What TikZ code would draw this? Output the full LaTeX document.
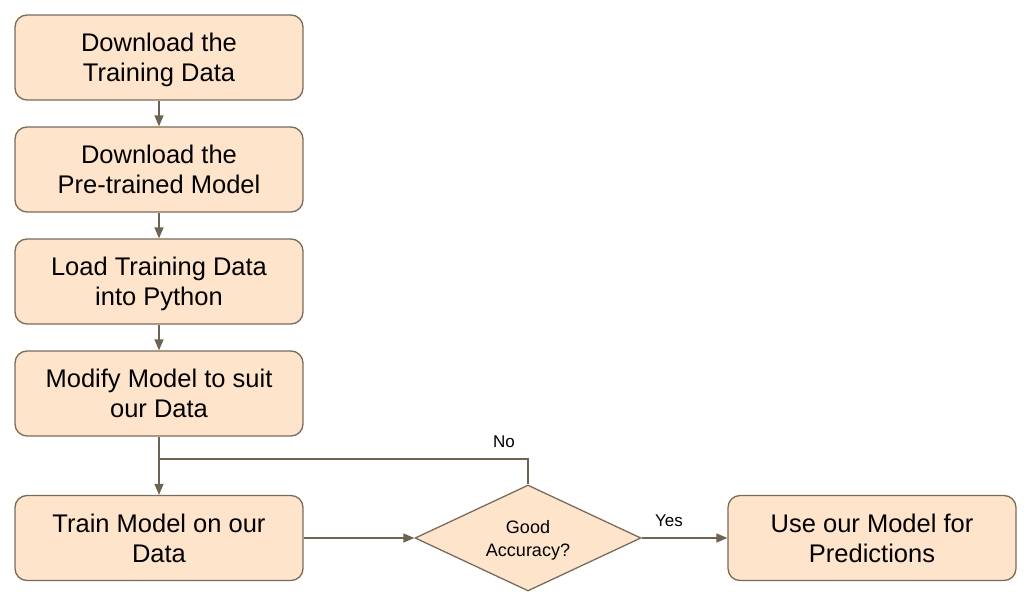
\documentclass[tikz,border=0pt]{standalone}
\usepackage{fontspec}
\setmainfont{Liberation Sans}
\usetikzlibrary{arrows.meta,shapes.geometric}
\definecolor{boxfill}{HTML}{FFE4CC}
\definecolor{boxline}{HTML}{7A6C5A}
\definecolor{arrowc}{HTML}{6E6250}
\tikzset{
  stepbox/.style={draw=boxline, fill=boxfill, line width=1.3pt, rounded corners=12pt,
    minimum width=288pt, minimum height=85pt, align=center, inner sep=0pt,
    font=\fontsize{25.5}{30}\selectfont, text height=48.4pt, text depth=0pt},
  decision/.style={draw=boxline, fill=boxfill, line width=1.3pt, diamond, aspect=2.13,
    minimum width=226pt, minimum height=106pt, align=center, inner sep=0pt,
    font=\fontsize{18}{22.5}\selectfont, text height=36pt, text depth=0pt},
  conn/.style={draw=arrowc, line width=1.4pt, -{Triangle[length=11pt,width=9pt]}},
  plain/.style={draw=arrowc, line width=1.4pt},
  lbl/.style={font=\fontsize{17}{20}\selectfont, inner sep=0pt}
}
\begin{document}
\begin{tikzpicture}[x=1pt,y=-1pt]
\useasboundingbox (0,0) rectangle (1030,599);
\node[stepbox] (b1) at (159,57.5) {Download the\\Training Data};
\node[stepbox] (b2) at (159,169.5) {Download the\\Pre-trained Model};
\node[stepbox] (b3) at (159,281.5) {Load Training Data\\into Python};
\node[stepbox] (b4) at (159,393.5) {Modify Model to suit\\our Data};
\node[stepbox] (b5) at (159,538) {Train Model on our\\Data};
\node[decision] (d) at (528,538) {Good\\Accuracy?};
\node[stepbox] (b6) at (872,538) {Use our Model for\\Predictions};
\coordinate (j) at (159,459);
\coordinate (k) at (528,459);
\draw[conn] (b1) -- (b2);
\draw[conn] (b2) -- (b3);
\draw[conn] (b3) -- (b4);
\draw[conn] (b4) -- (b5);
\draw[plain] (d.north) -- (k) -- (j);
\draw[conn] (b5) -- (d);
\draw[conn] (d) -- (b6);
\node[lbl] (no) at (504,442) {No};
\node[lbl] (yes) at (669,521) {Yes};
\end{tikzpicture}
\end{document}
